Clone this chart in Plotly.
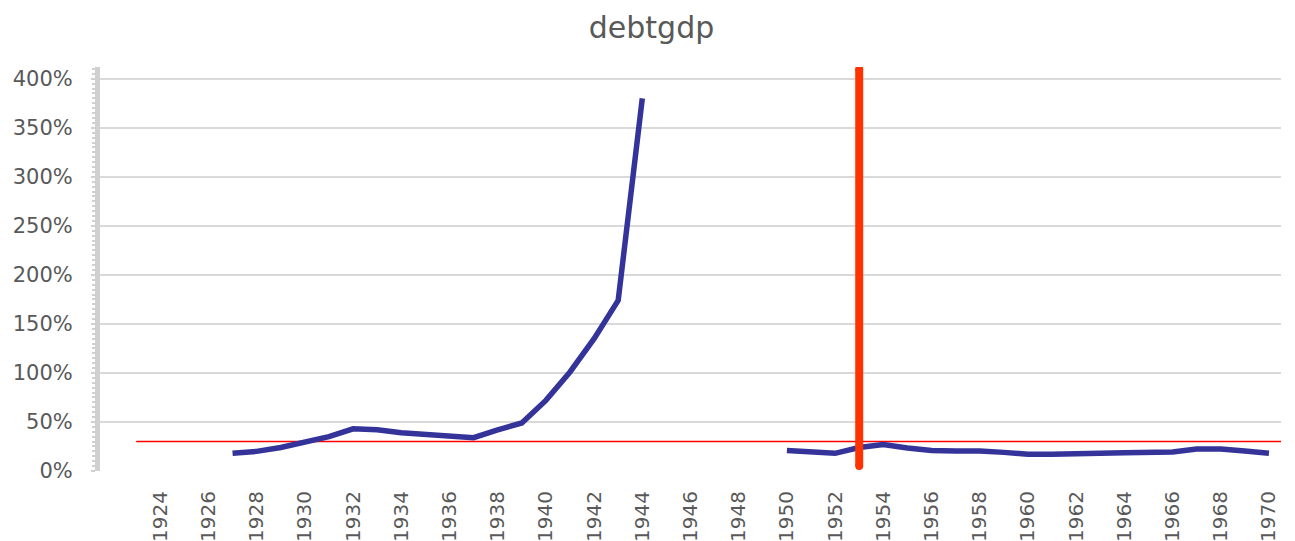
import plotly.graph_objects as go

# debt to GDP ratio by year (None = no data)
years = list(range(1922, 1971))
debtgdp = [
    None, None, None, None, None,                       # 1922-1926
    0.18, 0.20, 0.24, 0.29, 0.35, 0.43, 0.42, 0.39,     # 1927-1934
    0.375, 0.355, 0.34, 0.42, 0.49, 0.72, 1.01, 1.35,   # 1935-1942
    1.74, 3.80,                                         # 1943-1944
    None, None, None, None, None,                       # 1945-1949
    0.21, 0.19, 0.18, 0.24, 0.27, 0.235, 0.21, 0.205,   # 1950-1957
    0.205, 0.19, 0.17, 0.17, 0.17, 0.18, 0.185, 0.185,  # 1958-1965
    0.195, 0.225, 0.225, 0.205, 0.18,                   # 1966-1970
]

# reference level (horizontal) and event marker (vertical)
ref_years = [1923, 1971]
ref_level = [0.30, 0.30]
event_years = [1953, 1953]
event_range = [0.05, 4.10]

tick_years = list(range(1924, 1971, 2))
y_ticks = [0, 0.5, 1.0, 1.5, 2.0, 2.5, 3.0, 3.5, 4.0]

font = "DejaVu Sans"
grey = "#595959"

fig = go.Figure()

fig.add_trace(go.Scatter(
    x=ref_years, y=ref_level, mode="lines",
    line=dict(color="#ff0000", width=1.5),
    hoverinfo="skip", showlegend=False,
))

fig.add_trace(go.Scatter(
    x=years, y=debtgdp, mode="lines", name="debtgdp",
    line=dict(color="#333399", width=5.5),
    connectgaps=False, showlegend=False,
))

fig.add_trace(go.Scatter(
    x=event_years, y=event_range, mode="lines+markers",
    line=dict(color="#ff3300", width=8),
    marker=dict(color="#ff3300", size=8),
    hoverinfo="skip", showlegend=False,
))

# page body adds an 8px margin, so the figure is offset by 8px
fig.update_layout(
    title=dict(text="debtgdp", x=0.5, xanchor="center",
               y=0.964, yanchor="middle",
               font=dict(family=font, size=30, color=grey)),
    width=1287, height=533,
    margin=dict(l=92, r=14, t=59, b=70),
    plot_bgcolor="white", paper_bgcolor="white",
    font=dict(family=font, size=20, color=grey),
)

fig.update_xaxes(
    range=[1921.5, 1970.5], automargin=False,
    tickvals=tick_years, ticktext=[str(y) for y in tick_years],
    tickangle=-90, showgrid=False, showline=False, zeroline=False,
    ticks="", ticklabelstandoff=15, tickfont=dict(size=20),
)

fig.update_yaxes(
    range=[0, 4.12], automargin=False,
    tickvals=y_ticks, tickformat=".0%",
    showgrid=True, gridcolor="#d9d9d9", gridwidth=1.5,
    zeroline=False,
    showline=True, linecolor="#d0d0d0", linewidth=5,
    ticks="outside", ticklen=4, tickwidth=2, tickcolor="#d0d0d0",
    minor=dict(dtick=0.05, ticks="outside", ticklen=3, tickwidth=1.5,
               tickcolor="#d0d0d0", showgrid=False),
    ticklabelstandoff=14, tickfont=dict(size=21),
)

fig.write_html("out.html")
